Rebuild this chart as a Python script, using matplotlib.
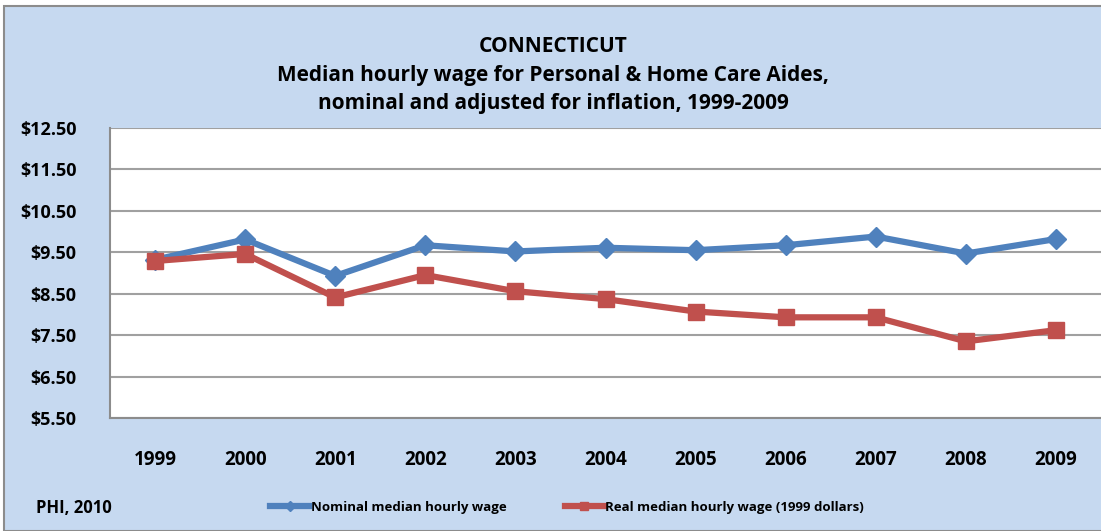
import numpy as np
import matplotlib.pyplot as plt
from matplotlib.ticker import FuncFormatter
from matplotlib.patches import Rectangle

years = ['1999', '2000', '2001', '2002', '2003', '2004', '2005', '2006', '2007', '2008', '2009']
nominal = [9.32, 9.81, 8.93, 9.67, 9.52, 9.61, 9.55, 9.67, 9.88, 9.47, 9.82]
real = [9.29, 9.46, 8.41, 8.95, 8.56, 8.37, 8.07, 7.93, 7.93, 7.35, 7.62]
y_ticks = [5.5, 6.5, 7.5, 8.5, 9.5, 10.5, 11.5, 12.5]

BG = '#C6D9F0'
BLUE = '#4F81BD'
RED = '#C0504D'
FONT = ['Open Sans', 'DejaVu Sans']

plt.rcParams['font.family'] = FONT
plt.rcParams['font.weight'] = 'bold'

W, H = 1101, 531
fig = plt.figure(figsize=(W / 100, H / 100), dpi=100)
fig.patch.set_facecolor('white')
# chart area with grey frame
bg = Rectangle((4 / W, 0), 1.2, 1 - 6 / H, transform=fig.transFigure,
               facecolor=BG, edgecolor='#8C8C8C', linewidth=1.5, zorder=-10)
fig.patches.append(bg)

ax = fig.add_axes([110 / W, 1 - 418 / H, (1101 - 110) / W, (418 - 128) / H])
ax.set_zorder(1)
ax.set_facecolor('white')

x = np.arange(len(years))
ax.plot(x, nominal, color=BLUE, lw=4.5, marker='D', ms=10, label='Nominal median hourly wage', zorder=3)
ax.plot(x, real, color=RED, lw=4.5, marker='s', ms=11, label='Real median hourly wage (1999 dollars)', zorder=4)

ax.set_xlim(-0.5, 10.5)
ax.set_ylim(5.5, 12.5)
ax.set_yticks(y_ticks)
ax.yaxis.set_major_formatter(FuncFormatter(lambda v, p: f'${v:.2f}'))
ax.set_xticks(x)
ax.set_xticklabels(years)
ax.tick_params(axis='y', length=0, labelsize=13, pad=24)
ax.tick_params(axis='x', length=0, labelsize=13.5, pad=23)
for lab in ax.get_yticklabels() + ax.get_xticklabels():
    lab.set_fontweight('bold')
ax.grid(axis='y', color='#A0A0A0', lw=1.5)
ax.set_axisbelow(True)
for s in ['top', 'right']:
    ax.spines[s].set_visible(False)
ax.spines['left'].set_color('#8C8C8C')
ax.spines['bottom'].set_color('#8C8C8C')
ax.spines['left'].set_linewidth(1.5)
ax.spines['bottom'].set_linewidth(1.5)

fig.text(553 / W, 1 - 46 / H, 'CONNECTICUT', ha='center', va='center', fontsize=15, fontweight='bold')
fig.text(553 / W, 1 - 75 / H, 'Median hourly wage for Personal & Home Care Aides,', ha='center', va='center',
         fontsize=15, fontweight='bold')
fig.text(553 / W, 1 - 103 / H, 'nominal and adjusted for inflation, 1999-2009', ha='center', va='center',
         fontsize=15, fontweight='bold')
fig.text(36 / W, 1 - 508 / H, 'PHI, 2010', ha='left', va='center', fontsize=12, fontweight='bold')

leg = fig.legend(loc='center left', bbox_to_anchor=(258 / W, 1 - 507 / H), ncol=2, frameon=False,
                 handlelength=3, handletextpad=0.1, columnspacing=4.4, markerscale=0.5,
                 prop={'weight': 'bold', 'size': 9.5})

fig.savefig('out.png', dpi=100, facecolor=fig.get_facecolor())
